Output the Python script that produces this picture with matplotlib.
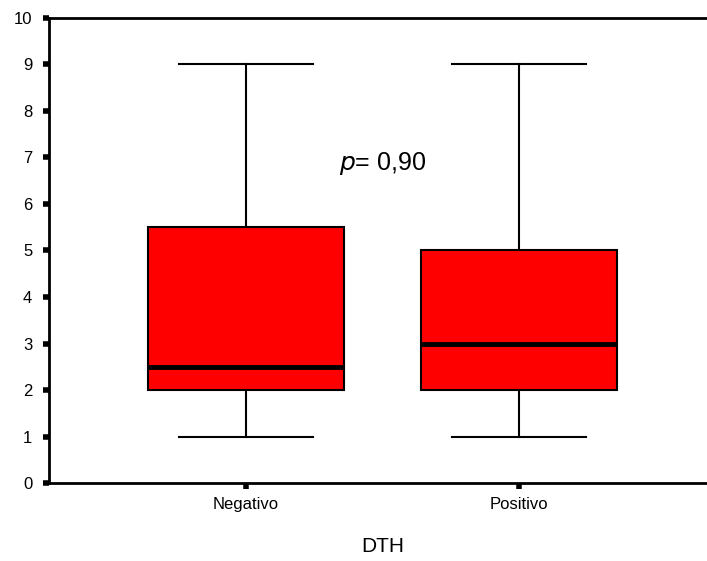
import matplotlib.pyplot as plt

plt.rcParams['font.family'] = ['Liberation Sans', 'DejaVu Sans']

# Summary statistics per DTH group
groups = ["Negativo", "Positivo"]
whisker_low = [1, 1]
q1 = [2, 2]
medians = [2.5, 3]
q3 = [5.5, 5]
whisker_high = [9, 9]

stats = []
for i, g in enumerate(groups):
    stats.append({
        "label": g,
        "whislo": whisker_low[i],
        "q1": q1[i],
        "med": medians[i],
        "q3": q3[i],
        "whishi": whisker_high[i],
        "fliers": [],
    })

fig = plt.figure(figsize=(7.07, 5.61), dpi=100)
ax = fig.add_axes([0.0693, 0.139, 0.96, 0.829])

ax.bxp(stats, positions=[1, 2], widths=0.72, patch_artist=True,
       showfliers=False,
       boxprops=dict(facecolor="#ff0000", edgecolor="black", linewidth=1.5),
       medianprops=dict(color="black", linewidth=3.5),
       whiskerprops=dict(color="black", linewidth=1.5),
       capprops=dict(color="black", linewidth=1.5),
       capwidths=0.49)

ax.set_xlim(0.278, 2.764)
ax.set_ylim(0, 10)
ax.set_yticks(range(0, 11))
ax.set_xticks([1, 2])
ax.set_xticklabels(groups)

ax.spines["right"].set_visible(False)
for s in ["left", "bottom", "top"]:
    ax.spines[s].set_linewidth(2)

ax.tick_params(axis="y", direction="out", length=4, width=4, labelsize=12, pad=8)
ax.tick_params(axis="x", direction="out", length=4, width=4, labelsize=12, pad=6)

ax.text(1.50, 6.88, r"$\it{p}$= 0,90", fontsize=18, ha="center", va="center")

fig.text(0.541, 0.009, "DTH", fontsize=15, ha="center", va="bottom")

fig.savefig("out.png", dpi=100)
